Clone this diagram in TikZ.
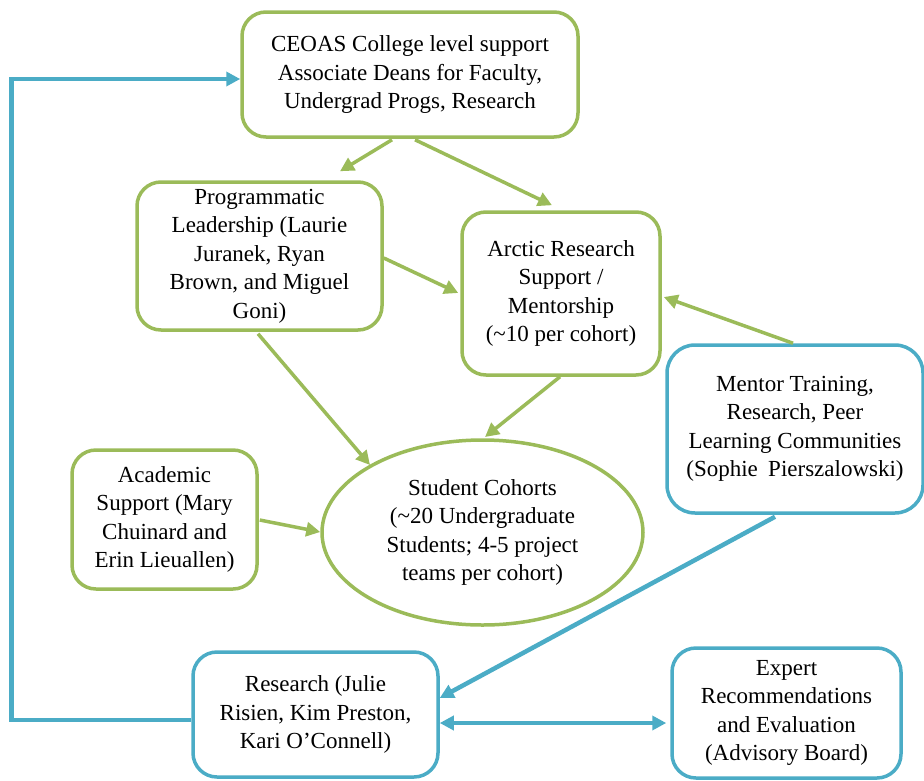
\documentclass[tikz,border=0pt]{standalone}
\usepackage{fontspec}
\setmainfont{Liberation Serif}
\usetikzlibrary{arrows.meta,calc,shapes.geometric}
\definecolor{ogreen}{HTML}{9BBB59}
\definecolor{oblue}{HTML}{4BACC6}
\begin{document}
\begin{tikzpicture}[x=1pt,y=-1pt,
  box/.style={rectangle,rounded corners=24pt,line width=3.5pt,fill=white,align=center,inner sep=0pt,font=\fontsize{23}{28.5}\selectfont},
  gbox/.style={box,draw=ogreen},
  bbox/.style={box,draw=oblue},
  garrow/.style={draw=ogreen,line width=3.5pt,-{Triangle[length=14pt,width=14pt]}},
  barrow/.style={draw=oblue,line width=4.5pt,-{Triangle[length=14pt,width=14pt]}},
  bdarrow/.style={draw=oblue,line width=4.5pt,{Triangle[length=14pt,width=14pt]}-{Triangle[length=14pt,width=14pt]}},
]
\useasboundingbox (0,0) rectangle (924,780);

\node[gbox,minimum width=336pt,minimum height=125pt] (ceoas) at (410,74.5)
  {CEOAS College level support\\Associate Deans for Faculty,\\Undergrad Progs, Research};
\node[gbox,minimum width=245pt,minimum height=148pt] (prog) at (259.5,256)
  {Programmatic\\Leadership (Laurie\\Juranek, Ryan\\Brown, and Miguel\\Goni)};
\node[gbox,minimum width=198pt,minimum height=163pt] (arctic) at (561,293.5)
  {Arctic Research\\Support /\\Mentorship\\(\textasciitilde10 per cohort)};
\node[bbox,rounded corners=28pt,minimum width=256pt,minimum height=168pt] (mentor) at (795,429)
  {Mentor Training,\\Research, Peer\\Learning Communities\\(Sophie\hspace{0.2em} Pierszalowski)};
\node[gbox,minimum width=185pt,minimum height=139pt] (acad) at (164.5,519.5)
  {Academic\\Support (Mary\\Chuinard and\\Erin Lieuallen)};
\node[ellipse,draw=ogreen,line width=3.5pt,fill=white,align=center,inner sep=0pt,
  font=\fontsize{23}{28.5}\selectfont,minimum width=321pt,minimum height=185pt] (cohort) at (482.5,532.5)
  {Student Cohorts\\(\textasciitilde20 Undergraduate\\Students; 4-5 project\\teams per cohort)};
\node[bbox,minimum width=245pt,minimum height=125pt] (research) at (315.5,714.5)
  {Research (Julie\\Risien, Kim Preston,\\Kari O’Connell)};
\node[bbox,minimum width=229pt,minimum height=130pt] (expert) at (786.5,713)
  {Expert\\Recommendations\\and Evaluation\\(Advisory Board)};

\draw[garrow] ($(ceoas.south)+(-18,1)$) -- ($(prog.north)+(80.5,-9)$);
\draw[garrow] ($(ceoas.south)+(5,1)$) -- ($(arctic.north)+(-9,-5)$);
\draw[garrow] ($(prog.east)+(0,2)$) -- ($(arctic.west)+(-2,-0.5)$);
\draw[garrow] ($(prog.south)+(-1.5,2)$) -- ($(cohort.center)+(-112.5,-67.5)$);
\draw[garrow] ($(arctic.south)+(-1,0)$) -- ($(cohort.center)+(2.5,-95.5)$);
\draw[garrow] ($(acad.east)+(1,0.5)$) -- ($(cohort.west)+(0,-0.5)$);
\draw[garrow] ($(mentor.north)+(-2,0)$) -- ($(arctic.east)+(2,3.5)$);
\draw[barrow] ($(mentor.south)+(-20,2)$) -- ($(research.east)+(0,-16.5)$);
\draw[barrow] ($(research.west)+(0,5.5)$) -- ++(-180,0) |- ($(ceoas.west)+(0,4.5)$);
\draw[bdarrow] ($(research.east)+(0,8.5)$) -- ($(expert.west)+(-4,10)$);
\end{tikzpicture}
\end{document}
